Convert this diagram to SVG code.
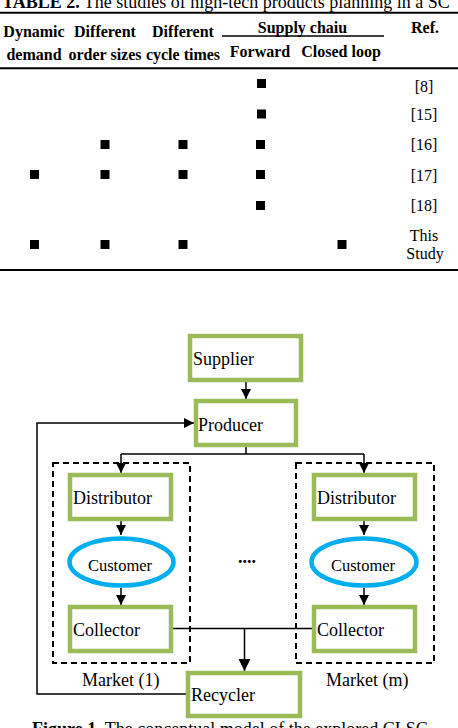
<svg xmlns="http://www.w3.org/2000/svg" width="458" height="728" viewBox="0 0 458 728" font-family="'Liberation Serif', 'Times New Roman', serif">
<defs>
<style>
text{font-family:'Liberation Serif','Times New Roman',serif;fill:#000}
.hd{font-size:16px;font-weight:bold;text-anchor:middle}
.cell{font-size:16px;text-anchor:middle}
.sq{fill:#000}
.rule{stroke:#000;fill:none}
.box{fill:#fff;stroke:#9BBB59;stroke-width:4.5}
.ell{fill:#fff;stroke:#00AEEF;stroke-width:4.5}
.lbl{font-size:18px}
.cl{font-size:16.5px;text-anchor:middle}
.conn{stroke:#000;stroke-width:1.5;fill:none}
.mkt{fill:none;stroke:#000;stroke-width:2;stroke-dasharray:6 4}
</style>
<marker id="arr" markerUnits="userSpaceOnUse" markerWidth="11" markerHeight="11" refX="10" refY="5" orient="auto">
<path d="M0,0 L10,5 L0,10 z" fill="#000"/>
</marker>
<marker id="arrB" markerUnits="userSpaceOnUse" markerWidth="13" markerHeight="12" refX="12" refY="6" orient="auto">
<path d="M0,0 L12,6 L0,12 z" fill="#000"/>
</marker>
</defs>

<g id="table">
<text x="2" y="7.5" font-size="18"><tspan font-weight="bold">TABLE 2.</tspan> The studies of high-tech products planning in a SC</text>
<line class="rule" x1="0" y1="12.8" x2="458" y2="12.8" stroke-width="2"/>
<text class="hd" x="34" y="36.5">Dynamic</text>
<text class="hd" x="34" y="60">demand</text>
<text class="hd" x="105" y="36.5">Different</text>
<text class="hd" x="105" y="60">order sizes</text>
<text class="hd" x="183" y="36.5">Different</text>
<text class="hd" x="183" y="60">cycle times</text>
<text class="hd" x="302.5" y="33">Supply chaiu</text>
<line class="rule" x1="222" y1="36" x2="384" y2="36" stroke-width="1.3"/>
<text class="hd" x="260" y="57">Forward</text>
<text class="hd" x="341" y="57">Closed loop</text>
<text class="hd" x="425" y="33">Ref.</text>
<line class="rule" x1="0" y1="68.3" x2="458" y2="68.3" stroke-width="2"/>

<rect class="sq" x="257" y="79" width="9" height="9"/>
<text class="cell" x="424" y="92">[8]</text>

<rect class="sq" x="257" y="109.5" width="9" height="9"/>
<text class="cell" x="424" y="120">[15]</text>

<rect class="sq" x="100.5" y="140" width="9" height="9"/>
<rect class="sq" x="178.5" y="140" width="9" height="9"/>
<rect class="sq" x="256" y="140" width="9" height="9"/>
<text class="cell" x="424" y="150">[16]</text>

<rect class="sq" x="30" y="170" width="9" height="9"/>
<rect class="sq" x="100.5" y="170" width="9" height="9"/>
<rect class="sq" x="178.5" y="170" width="9" height="9"/>
<rect class="sq" x="256" y="170" width="9" height="9"/>
<text class="cell" x="424" y="180.5">[17]</text>

<rect class="sq" x="256" y="201" width="9" height="9"/>
<text class="cell" x="424" y="211">[18]</text>

<rect class="sq" x="30" y="240" width="9" height="9"/>
<rect class="sq" x="100.5" y="240" width="9" height="9"/>
<rect class="sq" x="178.5" y="240" width="9" height="9"/>
<rect class="sq" x="337.5" y="240" width="9" height="9"/>
<text class="cell" x="424" y="241">This</text>
<text class="cell" x="425" y="259">Study</text>
<line class="rule" x1="0" y1="270" x2="458" y2="270" stroke-width="2"/>
</g>

<g id="markets">
<rect id="market1" class="mkt" x="53" y="463" width="137" height="200"/>
<rect id="marketm" class="mkt" x="296" y="463" width="138" height="200"/>
<text class="lbl" x="82" y="686">Market (1)</text>
<text class="lbl" x="326" y="686">Market (m)</text>
<text x="247" y="563" font-size="18" font-weight="bold" text-anchor="middle">....</text>
</g>

<g id="connectors">
<path class="conn" d="M246,382 V399" marker-end="url(#arr)"/>
<path class="conn" d="M188,694 H37 V423 H194" marker-end="url(#arr)"/>
<path class="conn" d="M246,447 V454"/>
<path class="conn" d="M121,454 H364"/>
<path class="conn" d="M121,454 V473" marker-end="url(#arr)"/>
<path class="conn" d="M364,454 V473" marker-end="url(#arr)"/>
<path class="conn" d="M121,521 V535" marker-end="url(#arr)"/>
<path class="conn" d="M364,521 V535" marker-end="url(#arr)"/>
<path class="conn" d="M121,588 V605" marker-end="url(#arr)"/>
<path class="conn" d="M364,588 V605" marker-end="url(#arr)"/>
<path class="conn" d="M173,628.5 H312"/>
<path class="conn" d="M244.5,628.5 V671" stroke-width="2" marker-end="url(#arrB)"/>
</g>

<g id="supplier">
<rect class="box" x="190" y="336" width="111" height="44"/>
<text class="lbl" x="193" y="365">Supplier</text>
</g>
<g id="producer">
<rect class="box" x="196" y="401" width="100" height="44"/>
<text class="lbl" x="198" y="431">Producer</text>
</g>
<g id="distributor1">
<rect class="box" x="70" y="475" width="101" height="44"/>
<text class="lbl" x="73" y="504">Distributor</text>
</g>
<g id="distributorm">
<rect class="box" x="314" y="475" width="101" height="44"/>
<text class="lbl" x="317" y="504">Distributor</text>
</g>
<g id="customer1">
<ellipse class="ell" cx="121.5" cy="562" rx="52" ry="23.5"/>
<text class="cl" x="120" y="571">Customer</text>
</g>
<g id="customerm">
<ellipse class="ell" cx="364" cy="562" rx="52.5" ry="23.5"/>
<text class="cl" x="363" y="571">Customer</text>
</g>
<g id="collector1">
<rect class="box" x="70" y="607" width="101" height="44"/>
<text class="lbl" x="73" y="636">Collector</text>
</g>
<g id="collectorm">
<rect class="box" x="314" y="607" width="101" height="44"/>
<text class="lbl" x="317" y="636">Collector</text>
</g>
<g id="recycler">
<rect class="box" x="188" y="673" width="112" height="43"/>
<text class="lbl" x="191" y="701">Recycler</text>
</g>

<g id="caption">
<text x="32" y="735" font-size="18"><tspan font-weight="bold">Figure 1.</tspan> The conceptual model of the explored CLSC</text>
</g>
</svg>
